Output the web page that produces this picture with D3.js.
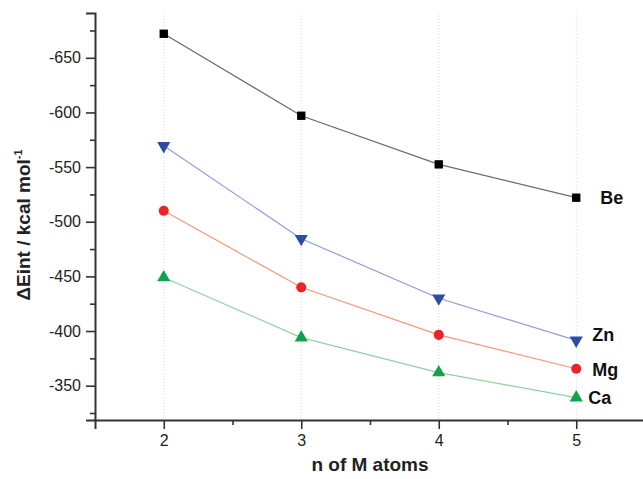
<!DOCTYPE html>
<html>
<head>
<meta charset="utf-8">
<script src="https://cdn.jsdelivr.net/npm/d3@7"></script>
<style>
  body { margin: 0; background: #fff; }
  svg { font-family: "Liberation Sans", Arial, sans-serif; }
</style>
</head>
<body>
<div id="chart"></div>
<script>
// data
const nAtoms = [2, 3, 4, 5];
const beValues = [-672, -597, -552.5, -522];
const znValues = [-569.5, -484.5, -430, -391.5];
const mgValues = [-510, -440, -396.5, -365.5];
const caValues = [-449, -394, -362, -339];
const yTicks = [-650, -600, -550, -500, -450, -400, -350];
const yMinorTicks = [-675, -625, -575, -525, -475, -425, -375, -325];
const xMinorTicks = [2.5, 3.5, 4.5];

const series = [
    { name: 'Be', values: beValues, line: '#6b6b6b', fill: '#000000', symbol: 'square' },
    { name: 'Zn', values: znValues, line: '#8e9ddb', fill: '#2b4ea3', symbol: 'down' },
    { name: 'Mg', values: mgValues, line: '#f59a78', fill: '#ec2327', symbol: 'circle' },
    { name: 'Ca', values: caValues, line: '#8ed3a2', fill: '#10a34b', symbol: 'up' }
];

const width = 643, height = 479;
const plotLeft = 95, plotTop = 13, plotBottom = 420, plotRight = 645;

const svg = d3.select('#chart').append('svg')
    .attr('width', width)
    .attr('height', height);

const x = d3.scaleLinear().domain([1.5, 5.5]).range([plotLeft, plotRight]);
const y = d3.scaleLinear().domain([-318.6, -691]).range([plotBottom, plotTop]);

// plain hyphen minus like the original
const plainFormat = d => String(d);

//dotted vertical grid
svg.append('g')
    .selectAll('line')
    .data(nAtoms)
    .join('line')
    .attr('x1', d => x(d)).attr('x2', d => x(d))
    .attr('y1', plotTop).attr('y2', plotBottom)
    .attr('stroke', '#d8d8d8')
    .attr('stroke-width', 1)
    .attr('stroke-dasharray', '1,2');

//axes
svg.append('g')
    .attr('transform', `translate(${plotLeft},0)`)
    .call(d3.axisLeft(y).tickValues(yTicks).tickSize(9).tickPadding(5).tickFormat(plainFormat));
svg.append('g')
    .attr('transform', `translate(${plotLeft},0)`)
    .call(d3.axisLeft(y).tickValues(yMinorTicks).tickSize(5).tickFormat(''))
    .call(g => g.select('.domain').remove());

svg.append('g')
    .attr('transform', `translate(0,${plotBottom})`)
    .call(d3.axisBottom(x).tickValues(nAtoms).tickSize(9).tickPadding(6).tickFormat(plainFormat));
svg.append('g')
    .attr('transform', `translate(0,${plotBottom})`)
    .call(d3.axisBottom(x).tickValues(xMinorTicks).tickSize(5).tickFormat(''))
    .call(g => g.select('.domain').remove());

svg.selectAll('.domain, .tick line')
    .attr('stroke', '#333')
    .attr('stroke-width', 1.6);
svg.selectAll('.domain').attr('stroke-width', 2);
svg.selectAll('.tick text')
    .attr('fill', '#222')
    .style('font-family', '"Liberation Sans", Arial, sans-serif')
    .style('font-size', '16px');

//axis titles
svg.append('text')
    .attr('x', 370)
    .attr('y', 471)
    .attr('text-anchor', 'middle')
    .style('font-size', '19px')
    .style('font-weight', 'bold')
    .attr('fill', '#222')
    .text('n of M atoms');

const yTitle = svg.append('text')
    .attr('transform', 'translate(30,225) rotate(-90)')
    .attr('text-anchor', 'middle')
    .style('font-size', '19px')
    .style('font-weight', 'bold')
    .attr('fill', '#222');
yTitle.append('tspan').text('ΔEint / kcal mol');
yTitle.append('tspan').attr('dy', -8).style('font-size', '11px').text('-1');

//lines and markers
const line = d3.line()
    .x((d, i) => x(nAtoms[i]))
    .y(d => y(d));

const symbols = {
    square: d3.symbol(d3.symbolSquare, 70),
    circle: d3.symbol(d3.symbolCircle, 80),
    up: d3.symbol(d3.symbolTriangle, 75),
    down: d3.symbol(d3.symbolTriangle, 75)
};

const group = svg.selectAll('.series')
    .data(series)
    .join('g')
    .attr('class', 'series');

group.append('path')
    .attr('fill', 'none')
    .attr('stroke', d => d.line)
    .attr('stroke-width', 1.2)
    .attr('d', d => line(d.values));

group.selectAll('.marker')
    .data(d => d.values.map((v, i) => ({ v, i, s: d })))
    .join('path')
    .attr('class', 'marker')
    .attr('d', d => symbols[d.s.symbol]())
    .attr('fill', d => d.s.fill)
    .attr('transform', d => `translate(${x(nAtoms[d.i])},${y(d.v)})` + (d.s.symbol === 'down' ? ' rotate(180)' : ''));

//series labels
const labelOffset = { Be: [24, 0], Zn: [16, -6], Mg: [16, 1], Ca: [12, 0] };
group.append('text')
    .attr('x', d => x(5) + labelOffset[d.name][0])
    .attr('y', d => y(d.values[3]) + labelOffset[d.name][1])
    .attr('dy', '0.35em')
    .style('font-size', '18px')
    .style('font-weight', 'bold')
    .attr('fill', '#111')
    .text(d => d.name);
</script>
</body>
</html>
